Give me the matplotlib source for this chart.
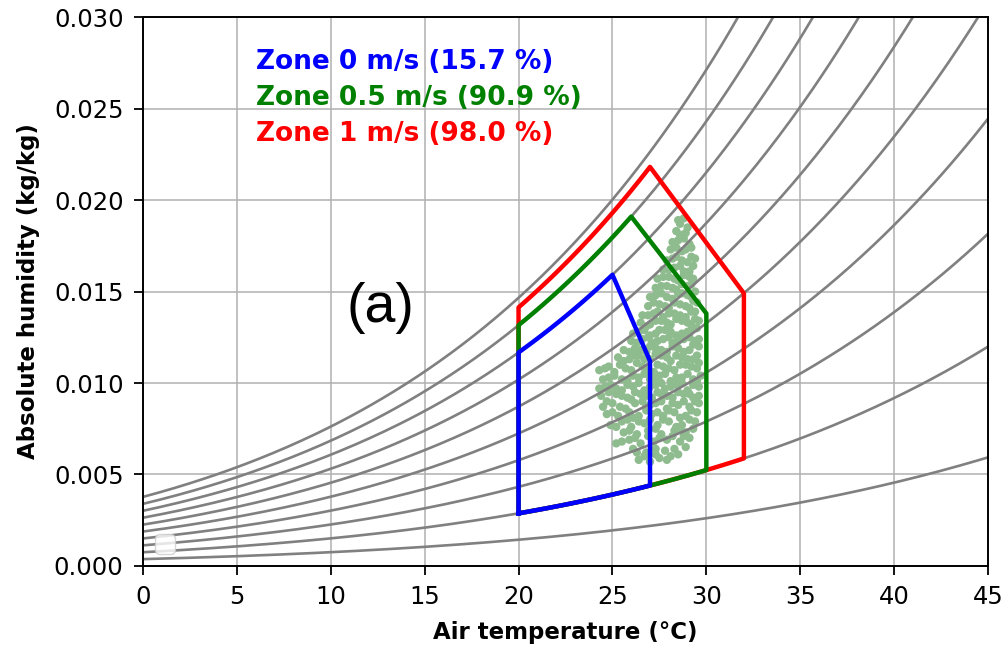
#!/usr/bin/env python3
"""Psychrometric chart with comfort zones for three air speeds."""
import numpy as np
import matplotlib
matplotlib.use('Agg')
import matplotlib.pyplot as plt
from matplotlib.ticker import FormatStrFormatter

P_ATM = 1013.25  # hPa

# relative humidity lines in the background
rh_levels = [0.1, 0.2, 0.3, 0.4, 0.5, 0.6, 0.7, 0.8, 0.9, 1.0]

# comfort zones (lower edge follows 20 % RH, upper-left edge follows an RH line)
zone_labels = ['Zone 0 m/s (15.7 %)', 'Zone 0.5 m/s (90.9 %)', 'Zone 1 m/s (98.0 %)']
zone_colors = ['blue', 'green', 'red']
zone_t_left = [20, 20, 20]
zone_t_peak = [25, 26, 27]
zone_rh_upper = [0.80, 0.90, 0.965]
zone_t_right = [27, 30, 32]
zone_w_corner = [0.0112, 0.0138, 0.0149]
zone_rh_lower = 0.20

# measured indoor conditions: (air temperature degC, absolute humidity g/kg)
obs_points = [
    (26.4, 5.8), (27.0, 5.7), (27.5, 5.9), (28.1, 6.0), (26.8, 6.2), (27.8, 6.3),
    (28.5, 6.1), (26.1, 6.4), (27.3, 6.4), (28.9, 6.5),
    (25.2, 6.7), (25.9, 6.9), (26.5, 6.7), (27.2, 6.8), (27.9, 6.9), (28.6, 6.8),
    (29.1, 7.0), (25.6, 7.3), (26.3, 7.2), (26.9, 7.4), (27.6, 7.2), (28.3, 7.4),
    (28.9, 7.3), (29.3, 7.5),
    (24.9, 7.7), (25.5, 7.9), (26.0, 7.6), (26.7, 7.8), (27.4, 7.7), (28.0, 7.9),
    (28.7, 7.7), (29.4, 7.9), (24.7, 8.3), (25.3, 8.2), (25.9, 8.4), (26.4, 8.2),
    (27.1, 8.3), (27.7, 8.2), (28.3, 8.4), (28.9, 8.2), (29.5, 8.4),
    (24.5, 8.7), (25.0, 8.9), (25.7, 8.6), (26.2, 8.9), (26.8, 8.7), (27.3, 8.9),
    (27.9, 8.6), (28.5, 8.8), (29.1, 8.7), (29.6, 8.9), (24.4, 9.3), (25.2, 9.4),
    (25.8, 9.2), (26.5, 9.4), (27.1, 9.2), (27.6, 9.4), (28.2, 9.2), (28.8, 9.4),
    (29.3, 9.2),
    (24.3, 9.7), (24.9, 9.9), (25.5, 9.6), (26.1, 9.8), (26.7, 9.6), (27.3, 9.9),
    (27.8, 9.7), (28.4, 9.9), (29.0, 9.6), (29.6, 9.8), (24.5, 10.2), (25.1, 10.4),
    (25.8, 10.1), (26.4, 10.3), (27.0, 10.2), (27.5, 10.4), (28.1, 10.1), (28.7, 10.3),
    (29.3, 10.2), (29.7, 10.4),
    (24.3, 10.7), (24.8, 10.9), (25.4, 11.0), (26.0, 10.7), (26.6, 10.9), (27.2, 10.6),
    (27.7, 10.9), (28.3, 10.7), (28.9, 11.0), (29.5, 10.8), (25.3, 11.4), (25.9, 11.3),
    (26.4, 11.5), (27.0, 11.3), (27.6, 11.5), (28.1, 11.2), (28.7, 11.4), (29.3, 11.3),
    (25.6, 11.8), (26.2, 11.9), (26.8, 11.7), (27.3, 11.9), (27.9, 11.7), (28.5, 11.9),
    (29.1, 11.8), (29.6, 12.0), (26.0, 12.3), (26.6, 12.4), (27.1, 12.2), (27.7, 12.4),
    (28.2, 12.2), (28.8, 12.4), (29.4, 12.3),
    (26.1, 12.7), (26.7, 12.9), (27.3, 12.7), (27.8, 12.9), (28.4, 12.6), (29.0, 12.8),
    (29.5, 13.0), (26.5, 13.3), (27.0, 13.2), (27.6, 13.4), (28.1, 13.2), (28.7, 13.4),
    (29.2, 13.2), (29.6, 13.4),
    (26.6, 13.7), (27.2, 13.8), (27.7, 13.6), (28.3, 13.8), (28.9, 13.6), (29.4, 13.9),
    (26.9, 14.2), (27.5, 14.3), (28.0, 14.1), (28.6, 14.3), (29.1, 14.1), (29.5, 14.4),
    (27.0, 14.7), (27.6, 14.9), (28.2, 14.6), (28.7, 14.9), (29.2, 14.7), (27.3, 15.2),
    (27.9, 15.3), (28.4, 15.1), (29.0, 15.3), (29.4, 15.0),
    (27.4, 15.7), (28.0, 15.8), (28.5, 15.6), (29.1, 15.8), (27.7, 16.2), (28.3, 16.3),
    (28.8, 16.1), (29.3, 16.4),
    (27.9, 16.7), (28.4, 16.9), (29.0, 16.6), (29.4, 16.8), (28.1, 17.3), (28.7, 17.2),
    (29.2, 17.4),
    (28.2, 17.7), (28.8, 17.9), (29.1, 17.6), (28.4, 18.3), (28.9, 18.2), (28.6, 18.7),
    (28.8, 19.0),
    (26.7, 6.0), (27.3, 6.1), (27.9, 5.8), (26.3, 6.2), (28.3, 6.4),
    (25.5, 6.8), (26.2, 7.0), (26.9, 7.1), (27.5, 7.0), (28.2, 7.1), (28.8, 7.1),
    (25.9, 7.4), (27.3, 7.5), (28.6, 7.5),
    (25.2, 7.6), (25.8, 8.0), (26.4, 7.9), (27.0, 8.0), (27.7, 8.0), (28.4, 7.6),
    (29.1, 8.0), (25.0, 8.4), (26.1, 8.1), (26.8, 8.5), (27.4, 8.4), (28.0, 8.5),
    (28.6, 8.1), (29.2, 8.5),
    (24.7, 9.0), (25.4, 8.7), (26.0, 9.1), (26.6, 9.0), (27.0, 8.8), (27.6, 9.0),
    (28.2, 8.9), (28.8, 9.0), (29.4, 9.0), (24.8, 9.5), (25.5, 9.3), (26.2, 9.5),
    (26.8, 9.3), (27.4, 9.5), (27.9, 9.3), (28.5, 9.5), (29.1, 9.4), (29.6, 9.3),
    (24.6, 9.8), (25.2, 9.7), (25.8, 9.9), (26.4, 10.0), (27.0, 9.8), (27.6, 10.0),
    (28.1, 9.8), (28.7, 10.0), (29.3, 9.9), (24.8, 10.3), (25.5, 10.2), (26.1, 10.4),
    (26.7, 10.5), (27.3, 10.3), (27.8, 10.5), (28.4, 10.3), (29.0, 10.5), (29.5, 10.1),
    (24.6, 10.8), (25.1, 10.6), (25.7, 10.8), (26.3, 11.1), (26.9, 10.8), (27.4, 11.0),
    (28.0, 10.8), (28.6, 11.0), (29.2, 10.9), (29.6, 11.1), (25.6, 11.2), (26.2, 11.5),
    (26.7, 11.3), (27.3, 11.6), (27.9, 11.4), (28.4, 11.5), (29.0, 11.3), (29.5, 11.5),
    (25.9, 11.7), (26.5, 11.8), (27.0, 12.0), (27.6, 11.8), (28.2, 12.0), (28.8, 11.7),
    (29.3, 12.1), (26.3, 12.2), (26.9, 12.5), (27.4, 12.3), (28.0, 12.5), (28.5, 12.3),
    (29.1, 12.5), (29.6, 12.4),
    (26.4, 12.8), (27.0, 12.6), (27.5, 12.9), (28.1, 12.8), (28.7, 12.7), (29.2, 12.9),
    (26.8, 13.1), (27.3, 13.4), (27.9, 13.3), (28.4, 13.5), (29.0, 13.3), (29.4, 13.5),
    (26.9, 13.7), (27.4, 13.9), (28.0, 13.8), (28.6, 13.7), (29.2, 13.9), (27.2, 14.4),
    (27.8, 14.2), (28.3, 14.4), (28.9, 14.2), (29.3, 14.5),
    (27.3, 14.8), (27.9, 14.7), (28.5, 14.9), (29.0, 14.8), (27.6, 15.3), (28.2, 15.2),
    (28.7, 15.4), (29.2, 15.4),
    (27.7, 15.8), (28.3, 15.7), (28.8, 15.9), (29.3, 15.7), (28.0, 16.2), (28.6, 16.4),
    (29.1, 16.1),
    (28.2, 16.8), (28.7, 16.7), (29.2, 16.9), (28.4, 17.4), (28.9, 17.3),
    (28.5, 17.8), (28.6, 18.1), (29.0, 18.5), (28.5, 18.9),
]


def humidity_ratio(t, rh):
    """Absolute humidity (kg/kg) from temperature (degC) and relative humidity."""
    es = 6.112 * np.exp(17.62 * t / (243.12 + t))
    e = rh * es
    return 0.622 * e / (P_ATM - e)


def main():
    fig, ax = plt.subplots(figsize=(10.04, 6.45), dpi=100)
    fig.subplots_adjust(left=0.1424, right=0.9841, bottom=0.1225, top=0.9736)

    # Measured points
    obs_t = [p[0] for p in obs_points]
    obs_w = [p[1] / 1000.0 for p in obs_points]
    ax.scatter(obs_t, obs_w, s=36, color='darkseagreen', edgecolors='none', zorder=1)

    # RH curves
    t_grid = np.linspace(0, 45, 300)
    for rh in rh_levels:
        ax.plot(t_grid, humidity_ratio(t_grid, rh), color='gray', lw=1.9, zorder=2)

    # Comfort zones (inner zone drawn on top)
    for i in range(len(zone_labels)):
        tl, tp, tr = zone_t_left[i], zone_t_peak[i], zone_t_right[i]
        t_low = np.linspace(tl, tr, 60)
        w_low = humidity_ratio(t_low, zone_rh_lower)
        t_up = np.linspace(tp, tl, 60)
        w_up = humidity_ratio(t_up, zone_rh_upper[i])
        xs = np.concatenate([t_low, [tr], t_up, [tl]])
        ys = np.concatenate([w_low, [zone_w_corner[i]], w_up, [w_low[0]]])
        ax.plot(xs, ys, color=zone_colors[i], lw=3.2, zorder=5 - i)

    # Zone labels
    label_y = [0.02754, 0.02557, 0.02361]
    for i, label in enumerate(zone_labels):
        ax.text(6.0, label_y[i], label, color=zone_colors[i], fontsize=19,
                fontweight='bold', va='center', ha='left', zorder=6)

    ax.text(12.67, 0.0141, '(a)', fontsize=40, family='Liberation Sans',
            ha='center', va='center', zorder=6)

    # Axes formatting
    ax.set_xlim(0, 45)
    ax.set_ylim(0, 0.030)
    ax.set_xticks(np.arange(0, 46, 5))
    ax.set_yticks(np.arange(0, 0.0301, 0.005))
    ax.yaxis.set_major_formatter(FormatStrFormatter('%.3f'))
    ax.tick_params(labelsize=17.5, length=6.5, width=1.3, pad=7.5)
    for sp in ax.spines.values():
        sp.set_linewidth(1.4)

    ax.set_xlabel('Air temperature (°C)', fontsize=16.5, fontweight='bold', labelpad=8)
    ax.set_ylabel('Absolute humidity (kg/kg)', fontsize=16.5, fontweight='bold', labelpad=10)

    ax.grid(True, color='#b0b0b0', lw=1.1)
    ax.set_axisbelow(True)

    # empty legend box (as in the original figure)
    ax.legend(handles=[], loc='lower left', fontsize=17.5)

    fig.savefig('out.png', dpi=100)


if __name__ == '__main__':
    main()
